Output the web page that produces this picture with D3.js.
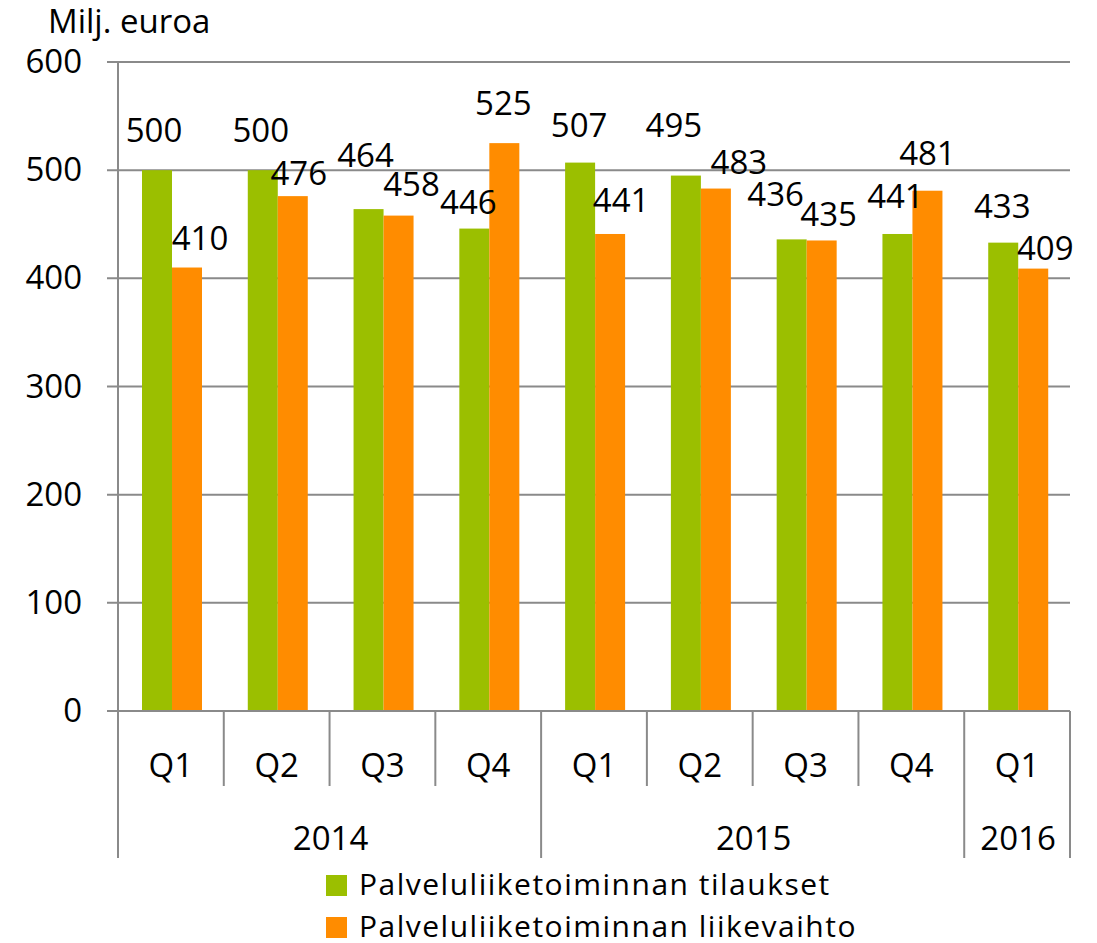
<html>
	<head>
		<meta content="text/html;charset=utf-8" http-equiv="Content-Type">
		<script src="https://d3js.org/d3.v7.min.js"></script>
		<style>
			body { margin: 0; background: #fff; }
			svg text { font-family: "Open Sans", sans-serif; fill: #000; }
		</style>
	</head>
	<body>
		<svg id="chart" width="1097" height="943"></svg>
		<script>

			// data
			var quarters = ["Q1","Q2","Q3","Q4","Q1","Q2","Q3","Q4","Q1"];
			var years = ["2014","2014","2014","2014","2015","2015","2015","2015","2016"];
			var orders = [500,500,464,446,507,495,436,441,433];
			var revenue = [410,476,458,525,441,483,435,481,409];
			var seriesNames = ["Palveluliiketoiminnan tilaukset","Palveluliiketoiminnan liikevaihto"];
			var seriesColors = ["#9bbf00","#ff8c00"];
			var yTicks = [0,100,200,300,400,500,600];

			// hand placed label nudges (pixels), as in the original
			var ordersLabelDx = [-3,-2,-3,-6,-1,-12,-16,-2,-1];
			var ordersLabelDy = [-18,-18,-32,-5,-16,-29,-23,-16,-15];
			var revenueLabelDx = [13,6,13,-1,11,23,7,0,12];
			var revenueLabelDy = [-8,-1,-10,-18,-12,-5,-4,-16,1];

			var plotLeft = 118, plotRight = 1070, plotTop = 62, plotBottom = 711;
			var gridColor = "#8a8a8a";

			var svg = d3.select("#chart");

			var idx = d3.range(quarters.length);
			var x = d3.scaleBand().domain(idx).range([plotLeft, plotRight]);
			var xs = d3.scaleBand().domain([0,1]).range([24, 84]);
			var y = d3.scaleLinear().domain([0, 600]).range([plotBottom, plotTop]);

			// gridlines
			svg.append("g").selectAll("line")
				.data(yTicks)
				.join("line")
				.attr("x1", plotLeft - 11)
				.attr("x2", plotRight)
				.attr("y1", d => y(d))
				.attr("y2", d => y(d))
				.style("stroke", gridColor)
				.style("stroke-width", 2);

			// y axis labels
			var yAxis = svg.append("g")
				.attr("transform", "translate(" + plotLeft + ",0)")
				.call(d3.axisLeft(y).tickValues(yTicks).tickSize(11).tickPadding(25).tickFormat(d3.format("d")));
			yAxis.select(".domain").remove();
			yAxis.selectAll(".tick line").remove();
			yAxis.selectAll("text")
				.style("font-size", "33px")
				.style("font-family", "Open Sans, sans-serif")
				.attr("fill", "#000");

			// bars
			var series = [orders, revenue];
			series.forEach(function(vals, s){
				svg.append("g").selectAll("rect")
					.data(idx)
					.join("rect")
					.attr("x", i => x(i) + xs(s))
					.attr("width", xs.bandwidth())
					.attr("y", i => y(vals[i]))
					.attr("height", i => y(0) - y(vals[i]))
					.attr("fill", seriesColors[s]);
			});

			// axis lines
			svg.append("line")
				.attr("x1", plotLeft).attr("x2", plotLeft)
				.attr("y1", plotTop).attr("y2", 858)
				.style("stroke", gridColor).style("stroke-width", 2);
			svg.append("line")
				.attr("x1", plotLeft - 11).attr("x2", plotRight)
				.attr("y1", plotBottom).attr("y2", plotBottom)
				.style("stroke", gridColor).style("stroke-width", 2);

			// category separators
			var bounds = idx.map(i => x(i)).concat([plotRight]);
			bounds.forEach(function(bx, k){
				var yearEdge = (k == 0 || k == quarters.length || years[k] != years[k-1]);
				svg.append("line")
					.attr("x1", bx).attr("x2", bx)
					.attr("y1", plotBottom).attr("y2", yearEdge ? 858 : 786)
					.style("stroke", gridColor).style("stroke-width", 2);
			});

			// quarter labels
			svg.append("g").selectAll("text")
				.data(idx)
				.join("text")
				.attr("x", i => x(i) + x.bandwidth() / 2)
				.attr("y", 777)
				.style("text-anchor", "middle")
				.style("font-size", "33px")
				.text(i => quarters[i]);

			// year labels
			var yearNames = Array.from(new Set(years));
			yearNames.forEach(function(yr){
				var members = idx.filter(i => years[i] == yr);
				var x0 = x(members[0]);
				var x1 = x(members[members.length - 1]) + x.bandwidth();
				svg.append("text")
					.attr("x", (x0 + x1) / 2 + 1)
					.attr("y", 850)
					.style("text-anchor", "middle")
					.style("font-size", "33px")
					.text(yr);
			});

			// value labels
			var dxs = [ordersLabelDx, revenueLabelDx];
			var dys = [ordersLabelDy, revenueLabelDy];
			series.forEach(function(vals, s){
				svg.append("g").selectAll("text")
					.data(idx)
					.join("text")
					.attr("x", i => x(i) + xs(s) + xs.bandwidth() / 2 + dxs[s][i])
					.attr("y", i => y(vals[i]) - 10 + dys[s][i])
					.style("text-anchor", "middle")
					.style("font-size", "33px")
					.text(i => vals[i]);
			});

			// unit title
			svg.append("text")
				.attr("x", 48)
				.attr("y", 33)
				.style("font-size", "33px")
				.text("Milj. euroa");

			// legend
			seriesNames.forEach(function(name, s){
				var ly = 875 + s * 42;
				svg.append("rect")
					.attr("x", 326).attr("y", ly)
					.attr("width", 21).attr("height", 21)
					.attr("fill", seriesColors[s]);
				svg.append("text")
					.attr("x", 359)
					.attr("y", ly + 20)
					.style("font-size", "30px")
					.style("letter-spacing", "1.5px")
					.text(name);
			});

		</script>
	</body>
</html>
